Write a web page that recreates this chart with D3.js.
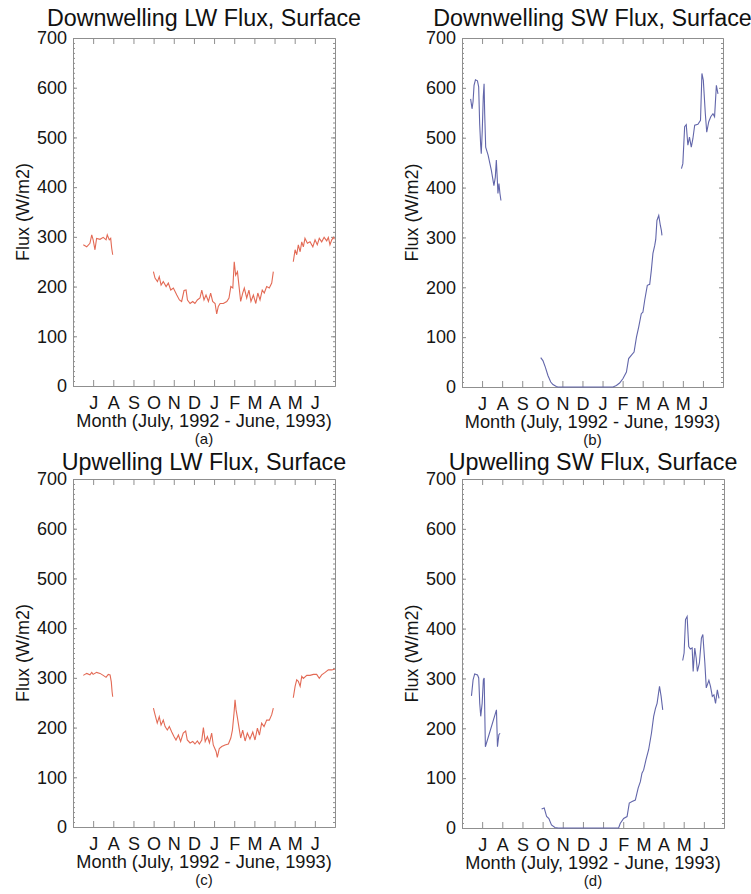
<!DOCTYPE html>
<html>
<head>
<meta charset="utf-8">
<script src="https://cdn.jsdelivr.net/npm/d3@7"></script>
<style>
  body { margin: 0; background: #fff; }
  svg { display: block; font-family: "Liberation Sans", Arial, Helvetica, sans-serif; }
  .frame path, .frame line { stroke: #8f8f8f; }
  .tick text { fill: #151515; }
</style>
</head>
<body>
<div id="c"></div>
<script>
// months counted from the left edge of the frame (0 = start of June 1992, tick 1 = J(uly))
var month_labels = ['J', 'A', 'S', 'O', 'N', 'D', 'J', 'F', 'M', 'A', 'M', 'J'];
var y_ticks = [0, 100, 200, 300, 400, 500, 600, 700];

// (a) downwelling LW, [month, W/m2]
var dlw_summer92 = [[0.51,284],[0.68,280],[0.84,287],[0.93,304],[1.0,294],[1.09,274],[1.17,297],[1.34,295],
	[1.5,299],[1.64,294],[1.7,304],[1.8,294],[1.87,297],[1.92,277],[1.97,264]];
var dlw_winter = [[3.99,230],[4.07,217],[4.19,210],[4.28,220],[4.37,203],[4.48,210],[4.62,200],[4.73,207],
	[4.85,193],[4.98,197],[5.15,183],[5.28,173],[5.39,170],[5.51,192],[5.61,193],[5.68,173],[5.81,166],
	[5.94,170],[6.05,166],[6.17,173],[6.3,177],[6.39,193],[6.5,173],[6.6,183],[6.72,170],[6.83,187],
	[6.93,170],[7.05,166],[7.13,145],[7.21,160],[7.3,166],[7.46,166],[7.63,170],[7.74,177],[7.83,200],
	[7.93,197],[8.0,250],[8.07,223],[8.16,230],[8.24,200],[8.32,170],[8.42,187],[8.5,197],[8.62,177],
	[8.73,193],[8.83,170],[8.95,183],[9.07,166],[9.17,187],[9.28,173],[9.39,193],[9.49,187],[9.61,200],
	[9.74,197],[9.86,207],[9.94,230]];
var dlw_summer93 = [[10.93,250],[11.02,274],[11.1,264],[11.18,284],[11.27,270],[11.35,290],[11.43,280],
	[11.51,297],[11.63,287],[11.76,290],[11.9,280],[12.01,294],[12.12,284],[12.22,297],[12.34,290],
	[12.46,299],[12.59,292],[12.67,299],[12.75,284],[12.84,294],[12.92,299],[12.97,295]];

// (b) downwelling SW
var dsw_summer92 = [[0.43,578],[0.5,558],[0.55,572],[0.6,605],[0.67,616],[0.77,614],[0.83,602],[0.88,528],
	[0.93,485],[0.96,468],[1.01,515],[1.06,582],[1.1,608],[1.13,548],[1.18,481],[1.3,465],[1.46,435],
	[1.59,404],[1.66,421],[1.71,455],[1.76,415],[1.79,388],[1.84,408],[1.89,388],[1.94,374]];
var dsw_winter = [[3.92,59],[4.03,53],[4.15,40],[4.28,23],[4.42,10],[4.53,5],[4.7,1],[4.78,0],[7.52,0],
	[7.69,3],[7.85,8],[8.02,17],[8.19,30],[8.3,57],[8.44,64],[8.57,70],[8.69,100],[8.8,120],[8.93,147],
	[9.01,150],[9.1,174],[9.23,204],[9.35,206],[9.43,234],[9.51,268],[9.6,284],[9.65,296],[9.71,334],
	[9.8,344],[9.88,324],[9.93,314],[9.96,304]];
var dsw_summer93 = [[10.93,438],[11.0,448],[11.09,522],[11.17,526],[11.25,485],[11.33,501],[11.42,481],
	[11.5,498],[11.59,525],[11.75,527],[11.88,535],[11.95,629],[12.02,615],[12.12,548],[12.19,511],
	[12.29,532],[12.39,542],[12.5,548],[12.58,542],[12.67,605],[12.75,588]];

// (c) upwelling LW
var ulw_summer92 = [[0.51,305],[0.68,309],[0.84,306],[0.93,311],[1.0,307],[1.17,311],[1.34,309],[1.5,305],
	[1.64,301],[1.75,307],[1.84,306],[1.9,292],[1.94,272],[1.97,262]];
var ulw_winter = [[3.99,239],[4.07,226],[4.18,209],[4.28,222],[4.37,205],[4.48,215],[4.57,202],[4.68,195],
	[4.78,202],[4.9,191],[5.01,182],[5.11,175],[5.23,185],[5.34,172],[5.47,189],[5.59,193],[5.67,175],
	[5.81,169],[5.94,172],[6.05,167],[6.17,173],[6.27,167],[6.39,175],[6.47,200],[6.56,172],[6.67,182],
	[6.77,169],[6.88,189],[6.96,165],[7.1,152],[7.16,140],[7.26,158],[7.38,162],[7.54,165],[7.71,167],
	[7.83,179],[7.91,195],[7.99,229],[8.04,256],[8.09,236],[8.15,222],[8.24,199],[8.32,179],[8.42,195],
	[8.54,173],[8.65,189],[8.78,177],[8.92,191],[9.03,175],[9.15,199],[9.25,185],[9.36,209],[9.48,202],
	[9.61,215],[9.74,215],[9.86,226],[9.94,239]];
var ulw_summer93 = [[10.93,260],[11.02,283],[11.1,296],[11.18,293],[11.27,283],[11.35,303],[11.43,299],
	[11.6,305],[11.76,305],[11.93,307],[12.09,307],[12.22,299],[12.34,306],[12.51,311],[12.67,316],
	[12.84,316],[13.0,318]];

// (d) upwelling SW
var usw_summer92 = [[0.47,265],[0.55,297],[0.63,309],[0.77,307],[0.83,301],[0.88,250],[0.93,224],[1.0,250],
	[1.06,297],[1.1,301],[1.16,163],[1.71,237],[1.76,163],[1.83,187],[1.89,190]];
var usw_winter = [[3.95,38],[4.08,40],[4.2,23],[4.31,19],[4.44,6],[4.61,1],[4.78,0],[7.77,0],[7.85,9],
	[8.02,19],[8.19,23],[8.3,50],[8.44,53],[8.6,56],[8.74,80],[8.85,93],[8.93,110],[9.01,116],[9.13,137],
	[9.26,157],[9.4,190],[9.51,224],[9.6,240],[9.68,250],[9.8,284],[9.88,264],[9.93,247],[9.96,237]];
var usw_summer93 = [[10.95,336],[11.02,351],[11.09,418],[11.17,424],[11.25,364],[11.33,359],[11.42,361],
	[11.47,314],[11.55,361],[11.62,341],[11.68,314],[11.78,331],[11.88,381],[11.95,388],[12.05,331],
	[12.12,281],[12.25,296],[12.33,284],[12.42,264],[12.5,267],[12.58,250],[12.67,277],[12.75,260]];

var lw_color = '#e36a55';
var sw_color = '#6266aa';

var width = 751;
var height = 894;

var panels = [
	{ title: 'Downwelling LW Flux, Surface', tag: '(a)', left: 73, right: 335, top: 38, bottom: 386, tgap: 12,
		color: lw_color, segs: [dlw_summer92, dlw_winter, dlw_summer93] },
	{ title: 'Downwelling SW Flux, Surface', tag: '(b)', left: 462, right: 723, top: 38, bottom: 387, tgap: 12,
		color: sw_color, segs: [dsw_summer92, dsw_winter, dsw_summer93] },
	{ title: 'Upwelling LW Flux, Surface', tag: '(c)', left: 73, right: 335, top: 479, bottom: 827, tgap: 9.5,
		color: lw_color, segs: [ulw_summer92, ulw_winter, ulw_summer93] },
	{ title: 'Upwelling SW Flux, Surface', tag: '(d)', left: 462, right: 724, top: 479, bottom: 828, tgap: 9.5,
		color: sw_color, segs: [usw_summer92, usw_winter, usw_summer93] }
];

var svg = d3.select('#c').append('svg')
	.attr('width', width)
	.attr('height', height);

function draw_panel(p) {
	var x_scale = d3.scaleLinear().domain([0, 13]).range([p.left, p.right]);
	var y_scale = d3.scaleLinear().domain([0, 700]).range([p.bottom, p.top]);
	var g = svg.append('g');
	var cx = (p.left + p.right) / 2;

	// minor y ticks every 10
	var minor = d3.range(0, 701, 10);
	g.append('g').attr('class', 'frame')
		.attr('transform', 'translate(' + p.left + ',0)')
		.call(d3.axisLeft(y_scale).tickValues(minor).tickSize(-2).tickSizeOuter(0).tickFormat(''));
	g.append('g').attr('class', 'frame')
		.attr('transform', 'translate(' + p.right + ',0)')
		.call(d3.axisRight(y_scale).tickValues(minor).tickSize(-2).tickSizeOuter(0).tickFormat(''));

	// major y ticks + labels
	g.append('g').attr('class', 'frame')
		.attr('transform', 'translate(' + p.left + ',0)')
		.call(d3.axisLeft(y_scale).tickValues(y_ticks).tickSize(-4).tickSizeOuter(0).tickPadding(6))
		.selectAll('text').style('font-size', '18px');
	g.append('g').attr('class', 'frame')
		.attr('transform', 'translate(' + p.right + ',0)')
		.call(d3.axisRight(y_scale).tickValues(y_ticks).tickSize(-4).tickSizeOuter(0).tickFormat(''));

	// month ticks
	g.append('g').attr('class', 'frame')
		.attr('transform', 'translate(0,' + p.bottom + ')')
		.call(d3.axisBottom(x_scale).tickValues(d3.range(1, 13)).tickSize(-6).tickSizeOuter(0).tickPadding(10)
			.tickFormat(function(d) { return month_labels[d - 1]; }))
		.selectAll('text').style('font-size', '18px');
	g.append('g').attr('class', 'frame')
		.attr('transform', 'translate(0,' + p.top + ')')
		.call(d3.axisTop(x_scale).tickValues(d3.range(1, 13)).tickSize(-6).tickSizeOuter(0).tickFormat(''));

	g.selectAll('.frame').attr('font-family', null).attr('font-size', null);

	// data
	var line = d3.line()
		.x(function(d) { return x_scale(d[0]); })
		.y(function(d) { return y_scale(d[1]); });
	g.selectAll('.seg')
		.data(p.segs)
		.enter()
		.append('path')
		.attr('class', 'seg')
		.attr('d', line)
		.attr('fill', 'none')
		.attr('stroke', p.color)
		.attr('stroke-width', 1.1);

	// texts
	g.append('text')
		.attr('x', cx).attr('y', p.top - p.tgap)
		.attr('text-anchor', 'middle')
		.style('font-size', '23.3px').attr('fill', '#111')
		.text(p.title);
	g.append('text')
		.attr('x', cx).attr('y', p.bottom + 41)
		.attr('text-anchor', 'middle')
		.style('font-size', '18.2px').attr('fill', '#151515')
		.text('Month (July, 1992 - June, 1993)');
	g.append('text')
		.attr('x', cx).attr('y', p.bottom + 58)
		.attr('text-anchor', 'middle')
		.style('font-size', '15px').attr('fill', '#151515')
		.text(p.tag);
	g.append('text')
		.attr('transform', 'translate(' + (p.left - 50) + ',' + ((p.top + p.bottom) / 2) + ') rotate(-90)')
		.attr('text-anchor', 'middle')
		.attr('dy', '0.35em')
		.style('font-size', '18px').attr('fill', '#151515')
		.text('Flux (W/m2)');
}

panels.forEach(draw_panel);
</script>
</body>
</html>
